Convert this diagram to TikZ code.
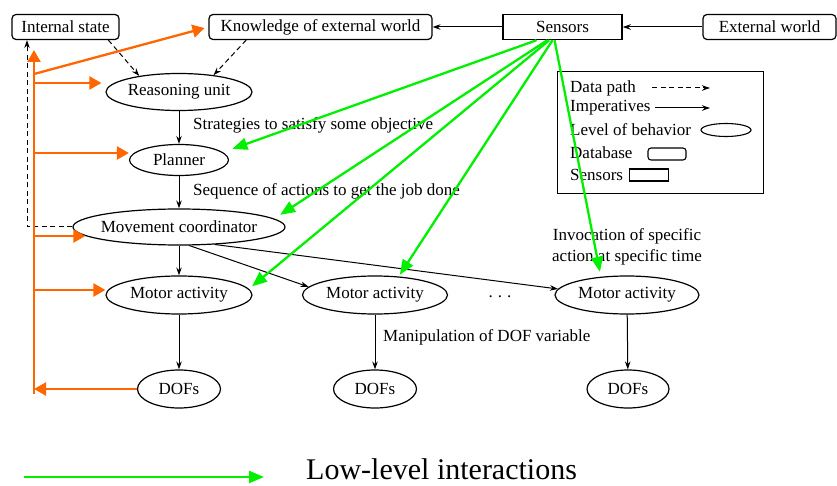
\documentclass[tikz,border=0pt]{standalone}
\usepackage{fontspec}
\setmainfont{Liberation Serif}
\usetikzlibrary{arrows.meta,shapes.geometric}
\definecolor{orng}{RGB}{255,102,0}
\definecolor{grn}{RGB}{0,240,0}
\begin{document}
\begin{tikzpicture}[x=1pt,y=-1pt,
  every node/.style={font=\fontsize{17}{21}\selectfont, inner sep=0pt},
  db/.style={draw, rounded corners=4pt, line width=1.2pt, minimum height=25},
  sens/.style={draw, line width=1.5pt, minimum height=25},
  beh/.style={draw, ellipse, line width=1.2pt, inner xsep=-60pt},
  imp/.style={line width=1pt, -{Stealth[length=8pt,width=5.5pt]}},
  dpath/.style={imp, dash pattern=on 5pt off 3.5pt},
  low/.style={grn, line width=2.3pt, -{Triangle[length=15pt,width=12pt]}},
  orn/.style={orng, line width=2.3pt, -{Triangle[length=12pt,width=13pt]}},
  lbl/.style={anchor=west}
]
\useasboundingbox (0,0) rectangle (837,486);

% top row
\node[db, minimum width=107] (is) at (65.5,27) {Internal state};
\node[db, minimum width=223] (kw) at (320.5,27) {Knowledge of external world};
\node[sens, minimum width=119] (sn) at (562.5,27) {Sensors};
\node[db, minimum width=133] (ew) at (769.5,27) {External world};

% behaviour levels
\node[beh, minimum width=146, minimum height=37] (ru) at (179,92) {Reasoning unit};
\node[beh, minimum width=99, minimum height=31] (pl) at (179,160) {Planner};
\node[beh, minimum width=212, minimum height=36] (mc) at (179,227) {Movement coordinator};
\node[beh, minimum width=146, minimum height=38] (ma1) at (179,295) {Motor activity};
\node[beh, minimum width=145, minimum height=38] (ma2) at (375,295) {Motor activity};
\node[beh, minimum width=144, minimum height=38] (ma3) at (627,295) {Motor activity};
\node[beh, minimum width=83, minimum height=38] (d1) at (179,389) {DOFs};
\node[beh, minimum width=83, minimum height=38] (d2) at (375,389) {DOFs};
\node[beh, minimum width=82, minimum height=38] (d3) at (628,389) {DOFs};
\node (dots) at (500,297) {.\hspace{5pt}.\hspace{5pt}.};

% labels
\node[lbl] (l1) at (193,125) {Strategies to satisfy some objective};
\node[lbl] (l2) at (193,191) {Sequence of actions to get the job done};
\node[lbl] (l3) at (383,337) {Manipulation of DOF variable};
\node[align=center, font=\fontsize{17}{21}\selectfont] (l4) at (627,247) {Invocation of specific\\action at specific time};

% imperatives
\draw[imp] (ew) -- (sn);
\draw[imp] (sn) -- (kw);
\draw[imp] (ru) -- (pl);
\draw[imp] (pl) -- (mc);
\draw[imp] (mc) -- (ma1);
\draw[imp] (mc.-61) -- (ma2.173);
\draw[imp] (mc.-26) -- (ma3.175);
\draw[imp] (ma1) -- (d1);
\draw[imp] (ma2) -- (d2);
\draw[imp] (ma3) -- (d3);

% data paths
\draw[dpath] (is.-17) -- (ru.158);
\draw[dpath] (kw.-170) -- (ru.26);
\coordinate (dc) at (27,227);
\draw[dpath] (mc.west) -- (dc) -- (dc |- is.south);

% legend
\node[draw, line width=1.1pt, minimum width=206, minimum height=122, anchor=north west] (lg) at (557,71) {};
\node[lbl] (t1) at (570,88) {Data path};
\node[lbl] (t2) at (570,108) {Imperatives};
\node[lbl] (t3) at (570,130) {Level of behavior};
\node[lbl] (t4) at (570,153) {Database};
\node[lbl] (t5) at (570,175) {Sensors};
\coordinate (a1) at (652,88); \coordinate (b1) at (710,88);
\coordinate (a2) at (655,108); \coordinate (b2) at (710,108);
\draw[dpath] (a1) -- (b1);
\draw[imp] (a2) -- (b2);
\node[draw, ellipse, line width=1.1pt, minimum width=50, minimum height=13] (s3) at (726,130) {};
\node[draw, rounded corners=3pt, line width=1.1pt, minimum width=38, minimum height=12] (s4) at (667,154) {};
\node[draw, line width=1.1pt, minimum width=39, minimum height=12] (s5) at (649,175) {};

% orange feedback
\coordinate (ob) at (34,394);
\coordinate (ot) at (34,50);
\coordinate (o0) at (34,74);
\coordinate (o1) at (34,83);
\coordinate (o2) at (34,153);
\coordinate (o3) at (34,236);
\coordinate (o4) at (34,290);
\coordinate (o5) at (34,389);
\draw[orn] (ob) -- (ot);
\draw[orn, shorten >=4pt] (o0) -- (kw.west);
\draw[orn, shorten >=4pt] (o1) -- (o1 -| ru.west);
\draw[orn] (o2) -- (o2 -| pl.west);
\draw[orn, shorten >=-13pt] (o3) -- (o3 -| mc.west);
\draw[orn] (o4) -- (o4 -| ma1.west);
\draw[orn] (d1.west) -- (o5);

% green low-level interactions
\draw[low, shorten >=10pt] (sn.-153) -- (pl.10);
\draw[low, shorten >=7pt] (sn.-139) -- (mc.5);
\draw[low, shorten >=4pt] (sn.-135) -- (ma1.5);
\draw[low, shorten >=2pt] (sn.-127) -- (ma2.38);
\draw[low, shorten >=5pt] (sn.-121) -- (ma3.145);

% bottom legend
\coordinate (la) at (24,477);
\coordinate (lb) at (264,477);
\draw[low] (la) -- (lb);
\node[anchor=base west, font=\fontsize{30}{35}\selectfont] (lt) at (306,479) {Low-level interactions};
\end{tikzpicture}
\end{document}
